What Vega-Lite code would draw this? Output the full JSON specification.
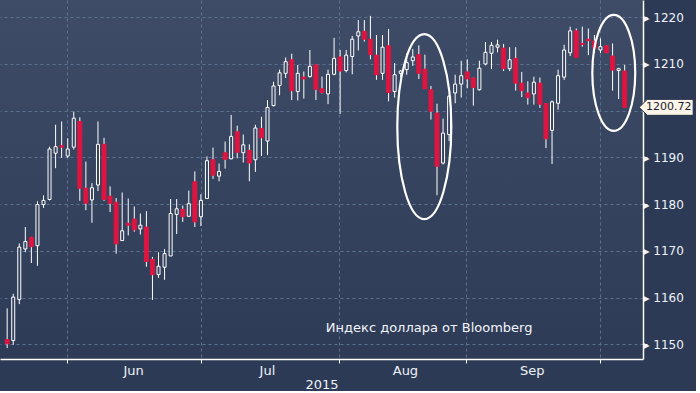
{
  "$schema": "https://vega.github.io/schema/vega-lite/v6.json",
  "width": 643,
  "height": 359,
  "padding": 0,
  "background": "#2d3a55",
  "datasets": {
    "ohlc": [
      {"i":0,"o":1151.0,"h":1157.7,"l":1149.2,"c":1150.1},
      {"i":1,"o":1150.8,"h":1160.8,"l":1149.9,"c":1160.1},
      {"i":2,"o":1159.6,"h":1171.6,"l":1158.6,"c":1170.8},
      {"i":3,"o":1170.4,"h":1175.1,"l":1169.7,"c":1172.0},
      {"i":4,"o":1172.9,"h":1173.0,"l":1167.4,"c":1170.9},
      {"i":5,"o":1171.1,"h":1180.6,"l":1166.8,"c":1179.9},
      {"i":6,"o":1179.9,"h":1181.9,"l":1179.2,"c":1180.8},
      {"i":7,"o":1181.0,"h":1192.3,"l":1180.8,"c":1191.8},
      {"i":8,"o":1190.9,"h":1197.0,"l":1187.7,"c":1192.3},
      {"i":9,"o":1192.5,"h":1197.7,"l":1189.9,"c":1192.2},
      {"i":10,"o":1190.3,"h":1194.1,"l":1189.9,"c":1191.8},
      {"i":11,"o":1192.2,"h":1199.8,"l":1191.7,"c":1198.4},
      {"i":12,"o":1197.7,"h":1198.6,"l":1180.7,"c":1183.4},
      {"i":13,"o":1183.4,"h":1189.1,"l":1178.7,"c":1180.2},
      {"i":14,"o":1180.9,"h":1184.5,"l":1176.0,"c":1183.5},
      {"i":15,"o":1184.1,"h":1197.7,"l":1182.8,"c":1192.8},
      {"i":16,"o":1192.8,"h":1194.2,"l":1180.7,"c":1181.0},
      {"i":17,"o":1181.7,"h":1183.8,"l":1178.3,"c":1180.2},
      {"i":18,"o":1180.4,"h":1181.3,"l":1169.4,"c":1171.5},
      {"i":19,"o":1172.2,"h":1182.5,"l":1172.2,"c":1174.3},
      {"i":20,"o":1175.9,"h":1181.2,"l":1173.3,"c":1175.5},
      {"i":21,"o":1176.8,"h":1179.5,"l":1174.1,"c":1174.5},
      {"i":22,"o":1174.7,"h":1178.0,"l":1173.5,"c":1175.5},
      {"i":23,"o":1175.1,"h":1178.5,"l":1166.6,"c":1167.7},
      {"i":24,"o":1168.2,"h":1168.7,"l":1159.5,"c":1164.9},
      {"i":25,"o":1164.9,"h":1169.7,"l":1164.2,"c":1166.7},
      {"i":26,"o":1166.5,"h":1170.4,"l":1163.8,"c":1169.4},
      {"i":27,"o":1168.9,"h":1181.1,"l":1168.9,"c":1178.0},
      {"i":28,"o":1177.8,"h":1181.1,"l":1173.6,"c":1179.0},
      {"i":29,"o":1178.9,"h":1179.7,"l":1176.2,"c":1177.3},
      {"i":30,"o":1177.4,"h":1182.9,"l":1177.3,"c":1180.1},
      {"i":31,"o":1184.8,"h":1187.0,"l":1175.1,"c":1176.2},
      {"i":32,"o":1177.3,"h":1182.1,"l":1175.3,"c":1180.8},
      {"i":33,"o":1181.2,"h":1190.2,"l":1181.2,"c":1189.3},
      {"i":34,"o":1189.5,"h":1192.1,"l":1185.4,"c":1186.2},
      {"i":35,"o":1186.0,"h":1188.7,"l":1184.9,"c":1187.0},
      {"i":36,"o":1191.0,"h":1193.4,"l":1187.6,"c":1189.6},
      {"i":37,"o":1189.7,"h":1199.1,"l":1189.6,"c":1194.5},
      {"i":38,"o":1195.5,"h":1196.8,"l":1189.8,"c":1191.1},
      {"i":39,"o":1191.0,"h":1194.9,"l":1188.9,"c":1192.7},
      {"i":40,"o":1191.5,"h":1192.8,"l":1184.9,"c":1188.8},
      {"i":41,"o":1189.5,"h":1197.0,"l":1186.9,"c":1196.3},
      {"i":42,"o":1196.2,"h":1198.7,"l":1190.3,"c":1194.2},
      {"i":43,"o":1193.5,"h":1202.3,"l":1190.5,"c":1200.7},
      {"i":44,"o":1201.1,"h":1206.2,"l":1200.9,"c":1205.3},
      {"i":45,"o":1205.4,"h":1208.8,"l":1203.3,"c":1208.1},
      {"i":46,"o":1208.0,"h":1211.4,"l":1207.0,"c":1210.5},
      {"i":47,"o":1210.9,"h":1212.2,"l":1202.3,"c":1204.3},
      {"i":48,"o":1204.1,"h":1209.8,"l":1202.2,"c":1208.0},
      {"i":49,"o":1207.2,"h":1208.4,"l":1202.6,"c":1206.8},
      {"i":50,"o":1207.3,"h":1213.0,"l":1207.1,"c":1209.5},
      {"i":51,"o":1209.8,"h":1209.9,"l":1202.3,"c":1204.6},
      {"i":52,"o":1204.7,"h":1207.3,"l":1203.7,"c":1203.9},
      {"i":53,"o":1203.6,"h":1208.8,"l":1201.4,"c":1207.8},
      {"i":54,"o":1207.8,"h":1215.6,"l":1207.6,"c":1211.2},
      {"i":55,"o":1211.5,"h":1213.0,"l":1199.3,"c":1208.5},
      {"i":56,"o":1208.6,"h":1213.0,"l":1208.2,"c":1211.9},
      {"i":57,"o":1211.6,"h":1216.0,"l":1207.8,"c":1215.3},
      {"i":58,"o":1216.0,"h":1219.4,"l":1212.9,"c":1216.9},
      {"i":59,"o":1217.0,"h":1219.4,"l":1214.8,"c":1215.3},
      {"i":60,"o":1215.3,"h":1220.3,"l":1211.0,"c":1212.0},
      {"i":61,"o":1211.9,"h":1216.2,"l":1206.6,"c":1207.7},
      {"i":62,"o":1208.0,"h":1216.2,"l":1206.6,"c":1213.6},
      {"i":63,"o":1213.9,"h":1217.5,"l":1202.0,"c":1203.9},
      {"i":64,"o":1204.1,"h":1210.2,"l":1202.8,"c":1207.7},
      {"i":65,"o":1208.0,"h":1208.7,"l":1207.1,"c":1208.5},
      {"i":66,"o":1208.8,"h":1212.3,"l":1207.7,"c":1210.3},
      {"i":67,"o":1210.7,"h":1213.2,"l":1209.6,"c":1211.5},
      {"i":68,"o":1212.0,"h":1214.0,"l":1206.8,"c":1208.0},
      {"i":69,"o":1208.9,"h":1212.0,"l":1204.7,"c":1204.7},
      {"i":70,"o":1204.5,"h":1205.3,"l":1198.1,"c":1199.9},
      {"i":71,"o":1199.5,"h":1201.5,"l":1181.9,"c":1188.1},
      {"i":72,"o":1188.8,"h":1198.3,"l":1188.5,"c":1195.2},
      {"i":73,"o":1194.9,"h":1203.4,"l":1193.5,"c":1203.1},
      {"i":74,"o":1203.8,"h":1207.7,"l":1201.6,"c":1205.7},
      {"i":75,"o":1205.7,"h":1210.7,"l":1202.8,"c":1207.5},
      {"i":76,"o":1208.3,"h":1211.0,"l":1204.8,"c":1206.8},
      {"i":77,"o":1207.0,"h":1207.1,"l":1201.1,"c":1205.0},
      {"i":78,"o":1204.5,"h":1210.7,"l":1204.3,"c":1209.1},
      {"i":79,"o":1210.0,"h":1214.7,"l":1209.7,"c":1212.5},
      {"i":80,"o":1212.3,"h":1214.7,"l":1208.9,"c":1214.0},
      {"i":81,"o":1213.6,"h":1215.2,"l":1212.5,"c":1214.1},
      {"i":82,"o":1213.4,"h":1214.3,"l":1208.5,"c":1209.0},
      {"i":83,"o":1209.0,"h":1213.6,"l":1208.5,"c":1210.9},
      {"i":84,"o":1211.2,"h":1213.6,"l":1204.3,"c":1205.9},
      {"i":85,"o":1205.9,"h":1208.3,"l":1202.9,"c":1204.3},
      {"i":86,"o":1203.8,"h":1206.3,"l":1201.3,"c":1202.8},
      {"i":87,"o":1203.6,"h":1207.3,"l":1201.3,"c":1206.1},
      {"i":88,"o":1205.9,"h":1207.1,"l":1200.6,"c":1201.4},
      {"i":89,"o":1201.5,"h":1201.6,"l":1192.0,"c":1194.0},
      {"i":90,"o":1195.8,"h":1202.2,"l":1188.6,"c":1201.9},
      {"i":91,"o":1201.6,"h":1208.8,"l":1200.2,"c":1207.5},
      {"i":92,"o":1207.2,"h":1214.1,"l":1206.6,"c":1213.0},
      {"i":93,"o":1212.4,"h":1218.0,"l":1211.7,"c":1217.1},
      {"i":94,"o":1217.1,"h":1217.6,"l":1211.4,"c":1211.4},
      {"i":95,"o":1214.4,"h":1218.0,"l":1213.7,"c":1214.2},
      {"i":96,"o":1215.3,"h":1217.6,"l":1211.9,"c":1215.0},
      {"i":97,"o":1214.9,"h":1216.2,"l":1212.3,"c":1213.4},
      {"i":98,"o":1213.0,"h":1215.5,"l":1212.3,"c":1213.7},
      {"i":99,"o":1213.9,"h":1214.0,"l":1212.4,"c":1212.4},
      {"i":100,"o":1211.7,"h":1214.4,"l":1204.3,"c":1208.7},
      {"i":101,"o":1208.6,"h":1209.2,"l":1202.5,"c":1209.0},
      {"i":102,"o":1208.5,"h":1209.8,"l":1200.72,"c":1200.72}
    ]
  },
  "layer": [
    {
      "data": {"name": "ohlc"},
      "mark": {"type": "rule", "color": "#ffffff", "strokeWidth": 1},
      "encoding": {
        "x": {
          "field": "i", "type": "quantitative",
          "scale": {"domain": [-0.358, 104.2], "nice": false, "zero": false},
          "axis": {
            "orient": "bottom",
            "values": [9.9, 32, 54.8, 75.75, 97.9],
            "labelExpr": "datum.value < 20 ? 'Jun' : datum.value < 40 ? 'Jul' : datum.value < 60 ? 'Aug' : datum.value < 80 ? 'Sep' : ''",
            "labelOffset": 66,
            "labelAngle": 0,
            "labelFontSize": 13,
            "labelPadding": 1,
            "labelFlush": false,
            "labelOverlap": false,
            "labelBound": false,
            "tickSize": 4,
            "domainWidth": 1.5,
            "grid": true,
            "title": "2015",
            "titleFontSize": 13,
            "titlePadding": 1
          }
        },
        "y": {
          "field": "l", "type": "quantitative",
          "scale": {"domain": [1146.85, 1223.7], "nice": false, "zero": false},
          "axis": {
            "orient": "right",
            "values": [1150,1155,1160,1165,1170,1175,1180,1185,1190,1195,1200,1205,1210,1215,1220],
            "labelExpr": "datum.value % 10 === 0 && datum.value !== 1200 ? '\u25b8 ' + datum.value : ''",
            "labelFontSize": 12,
            "labelPadding": -4,
            "labelOverlap": false,
            "labelBound": false,
            "labelFlush": false,
            "tickSize": 4,
            "domainWidth": 1.5,
            "grid": true,
            "gridOpacity": {"condition": {"test": "datum.value % 10 !== 0", "value": 0}, "value": 1},
            "title": null
          }
        },
        "y2": {"field": "h"}
      }
    },
    {
      "data": {"name": "ohlc"},
      "mark": {"type": "bar", "orient": "vertical", "strokeWidth": 1},
      "encoding": {
        "x": {"field": "i", "type": "quantitative"},
        "y": {"field": "o", "type": "quantitative"},
        "y2": {"field": "c"},
        "size": {"condition": {"test": "datum.c < datum.o", "value": 4}, "value": 3},
        "fill": {"condition": {"test": "datum.c < datum.o", "value": "#dd1540"}, "value": "#36435e"},
        "stroke": {"condition": {"test": "datum.c < datum.o", "value": "#dd1540"}, "value": "#ffffff"}
      }
    },
    {
      "data": {"values": [{"i": 68.9, "v": 1196.6}]},
      "mark": {"type": "point", "shape": "M 0 -1 A 0.292 1 0 1 1 0 1 A 0.292 1 0 1 1 0 -1 Z", "size": 34225, "filled": false, "stroke": "#ffffff", "strokeWidth": 2.2, "opacity": 1},
      "encoding": {
        "x": {"field": "i", "type": "quantitative"},
        "y": {"field": "v", "type": "quantitative"}
      }
    },
    {
      "data": {"values": [{"i": 100.2, "v": 1208.1}]},
      "mark": {"type": "point", "shape": "M 0 -1 A 0.37 1 0 1 1 0 1 A 0.37 1 0 1 1 0 -1 Z", "size": 13456, "filled": false, "stroke": "#ffffff", "strokeWidth": 2.2, "opacity": 1},
      "encoding": {
        "x": {"field": "i", "type": "quantitative"},
        "y": {"field": "v", "type": "quantitative"}
      }
    },
    {
      "data": {"values": [{"i": 102, "v": 1200.72, "t": "1200.72"}]},
      "layer": [
        {
          "mark": {"type": "point", "shape": "M -1 0 L -0.7 -0.296 L 1 -0.296 L 1 0.296 L -0.7 0.296 Z", "size": 2916, "filled": true, "fill": "#fdf5e8", "stroke": "#26324a", "strokeWidth": 1, "opacity": 1, "xOffset": 41.5}
        },
        {
          "mark": {"type": "text", "fontSize": 11, "font": "DejaVu Sans", "color": "#1b2234", "align": "center", "baseline": "middle", "dx": 44},
          "encoding": {"text": {"field": "t"}}
        }
      ],
      "encoding": {
        "x": {"field": "i", "type": "quantitative"},
        "y": {"field": "v", "type": "quantitative"}
      }
    },
    {
      "data": {"values": [{"i": 69.7, "v": 1153.4, "t": "Индекс доллара от Bloomberg"}]},
      "mark": {"type": "text", "fontSize": 13, "font": "DejaVu Sans", "color": "#f2f5fa", "align": "center", "baseline": "middle"},
      "encoding": {
        "x": {"field": "i", "type": "quantitative"},
        "y": {"field": "v", "type": "quantitative"},
        "text": {"field": "t"}
      }
    }
  ],
  "config": {
    "view": {
      "stroke": null,
      "fill": {"gradient": "linear", "x1": 0, "y1": 0, "x2": 0, "y2": 1, "stops": [{"offset": 0, "color": "#3f4c67"}, {"offset": 1, "color": "#2e3b57"}]}
    },
    "axis": {
      "domainColor": "#ffffff",
      "tickColor": "#ffffff",
      "labelColor": "#eef2f8",
      "labelFont": "DejaVu Sans",
      "titleColor": "#eef2f8",
      "titleFont": "DejaVu Sans",
      "titleFontWeight": "normal",
      "gridColor": "#5b7391",
      "gridDash": [3, 3],
      "gridWidth": 1
    }
  }
}
